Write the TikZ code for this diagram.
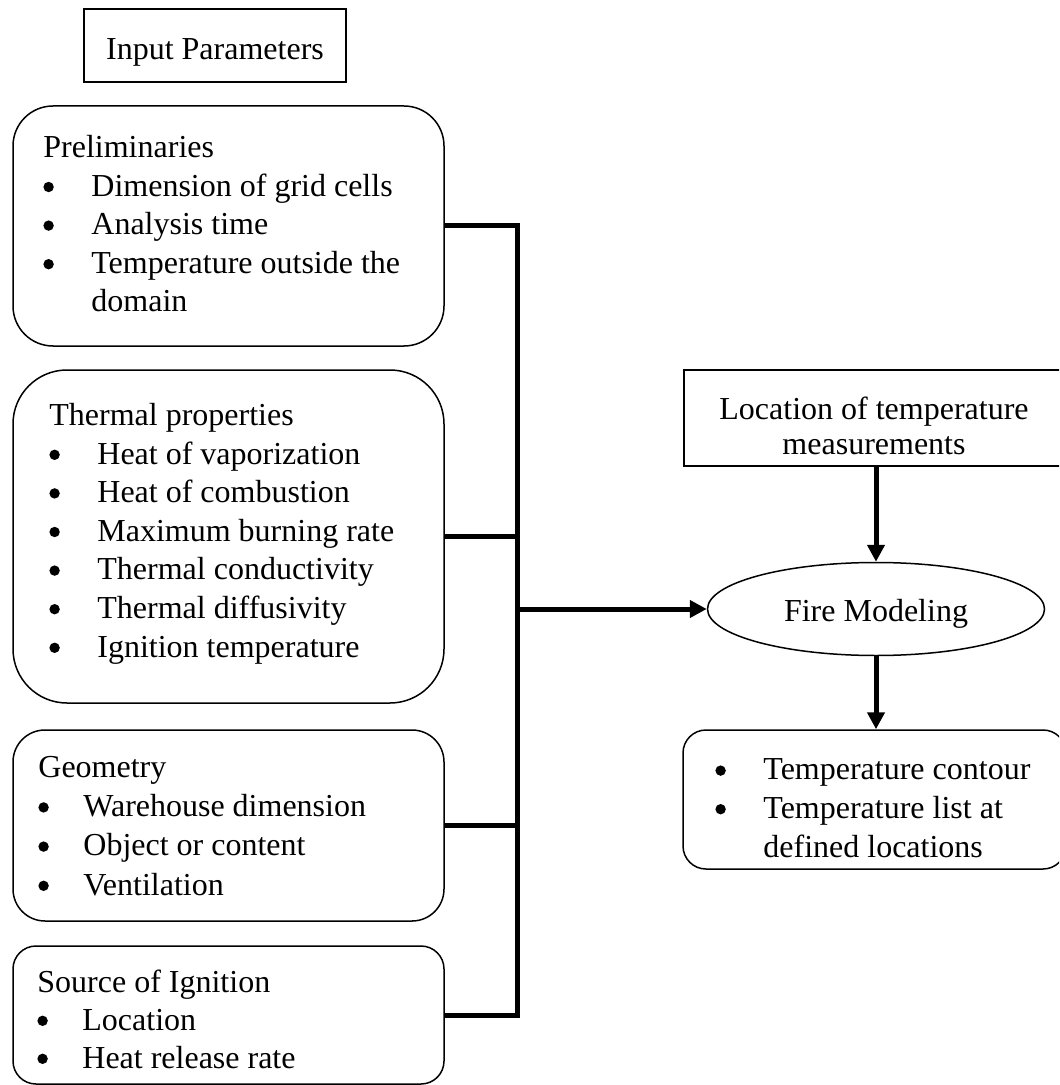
\documentclass[tikz,border=0pt]{standalone}
\usepackage{fontspec}
\setmainfont{Liberation Serif}
\usetikzlibrary{arrows.meta,fit,shapes.geometric}

% round list mark, and a list item with a fixed hanging indent
\newcommand\dotmark{\tikz[baseline=0pt]\fill (0pt,0pt) ++(2.6pt,4.6pt) circle[radius=2.6pt];}
\newlength\bulw
\setlength\bulw{24pt}
\newcommand\bul[1]{\makebox[\bulw][l]{\dotmark}#1}
\newcommand\cont[1]{\hspace*{\bulw}#1}

\begin{document}
\begin{tikzpicture}[x=0.5pt,y=-0.5pt,
  frame/.style={draw, line width=0.75pt, inner sep=0pt},
  panel/.style={frame, fit={#1}},
  listtext/.style={anchor=base west, inner sep=0pt, align=left,
                   font=\fontsize{16}{19.3}\selectfont},
  ctext/.style={anchor=base, inner sep=0pt, align=center,
                font=\fontsize{16}{17.5}\selectfont},
  bus/.style={line width=2.5pt, line join=miter},
  flow/.style={line width=2.5pt, -{Triangle[length=8.5pt,width=8.5pt]}},
]
\useasboundingbox (0,0) rectangle (1059,1085);
\clip (0,0) rectangle (1059,1085);

% title box
\node[panel={(84,9) (346,82)}] (input) {};
\node[ctext] (inputtxt) at (215,60) {Input Parameters};

% input groups on the left (each text node sits on its last baseline)
\node[panel={(13,106) (444,346)}, rounded corners=20pt] (prelim) {};
\node[listtext] (prelimtxt) at (43,312) {Preliminaries\\
  \bul{Dimension of grid cells}\\
  \bul{Analysis time}\\
  \bul{Temperature outside the}\\
  \cont{domain}};

\node[panel={(13,370) (444,703)}, rounded corners=27pt] (thermal) {};
\node[listtext] (thermaltxt) at (49,657) {Thermal properties\\
  \bul{Heat of vaporization}\\
  \bul{Heat of combustion}\\
  \bul{Maximum burning rate}\\
  \bul{Thermal conductivity}\\
  \bul{Thermal diffusivity}\\
  \bul{Ignition temperature}};

\node[panel={(13,730) (444,921)}, rounded corners=16pt] (geometry) {};
\node[listtext, font=\fontsize{16}{19.6}\selectfont\setlength\bulw{22.5pt}] (geomtxt) at (38,895) {Geometry\\
  \bul{Warehouse dimension}\\
  \bul{Object or content}\\
  \bul{Ventilation}};

\node[panel={(13,946) (444,1084)}, rounded corners=11.5pt] (source) {};
\node[listtext, font=\fontsize{16}{19}\selectfont\setlength\bulw{22.5pt}] (sourcetxt) at (37,1068) {Source of Ignition\\
  \bul{Location}\\
  \bul{Heat release rate}};

% right column
\node[panel={(684,370) (1064,466)}] (location) {};
\node[ctext] (locationtxt) at (874,454) {Location of temperature\\measurements};

\node[frame, ellipse, minimum width=168.5pt, minimum height=46.5pt] (fire) at (876,609) {};
\node[ctext] (firetxt) at (876,621) {Fire Modeling};

\node[panel={(683,730) (1066,869)}, rounded corners=11.5pt] (result) {};
\node[listtext, font=\fontsize{16}{19.3}\selectfont\setlength\bulw{24pt}] (resulttxt) at (715,857) {%
  \bul{Temperature contour}\\
  \bul{Temperature list at}\\
  \cont{defined locations}};

% collecting bus and flow arrows
\coordinate (busx) at (517,0);
\draw[bus] (prelim.east) -- (prelim.east -| busx) -- (source.east -| busx) -- (source.east);
\draw[bus] (thermal.east) -- (thermal.east -| busx);
\draw[bus] (geometry.east) -- (geometry.east -| busx);
\draw[flow] (fire.west -| busx) -- (fire.west);
\draw[flow] (fire.north |- location.south) -- (fire.north);
\draw[flow] (fire.south) -- (fire.south |- result.north);
\end{tikzpicture}
\end{document}
